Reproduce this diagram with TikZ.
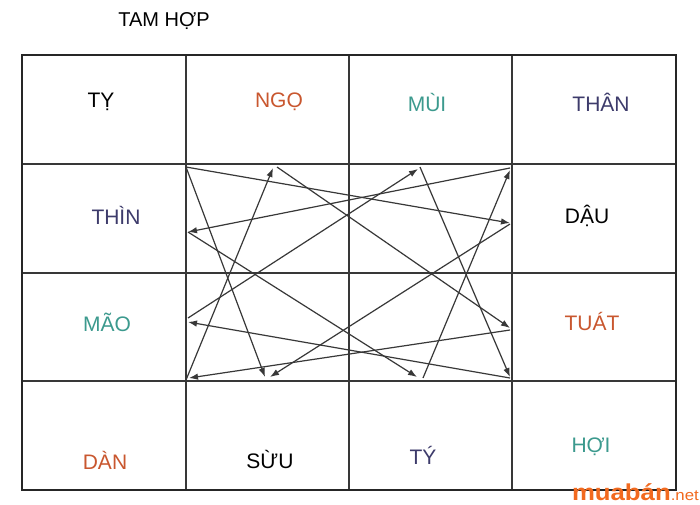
\documentclass[tikz,border=0pt]{standalone}
\usepackage{fontspec}
\setmainfont{Liberation Sans}
\usetikzlibrary{arrows.meta}
\definecolor{cOrange}{HTML}{C9572F}
\definecolor{cTeal}{HTML}{3C9A8E}
\definecolor{cNavy}{HTML}{3D3B6B}
\definecolor{cLine}{HTML}{383838}
\definecolor{cMark}{HTML}{F26A1F}
\begin{document}
\begin{tikzpicture}[x=1pt,y=-1pt,
  lbl/.style={font=\fontsize{21}{24}\selectfont, anchor=center, inner sep=0pt},
  grid/.style={draw=cLine, line width=1.2pt},
  outer/.style={draw=black!85, line width=2.6pt},
  link/.style={draw=cLine, line width=1.2pt, -{Latex[length=9pt,width=6.5pt]}}]
\useasboundingbox (0,0) rectangle (700,504);
\fill[white] (0,0) rectangle (700,504);
% grid
\draw[grid] (186,55) -- (186,490) (349,55) -- (349,490) (512,55) -- (512,490);
\draw[grid] (22,164) -- (676,164) (22,273) -- (676,273) (22,381) -- (676,381);
\draw[outer] (22,55) rectangle (676,490);
% title
\node[lbl, font=\fontsize{20}{24}\selectfont] (title) at (164,21) {TAM HỢP};
% labels
\node[lbl] (ty) at (101,102) {TỴ};
\node[lbl, text=cOrange] (ngo) at (279,102) {NGỌ};
\node[lbl, text=cTeal] (mui) at (427,102) {MÙI};
\node[lbl, text=cNavy] (than) at (601,102) {THÂN};
\node[lbl, text=cNavy] (thin) at (116,215) {THÌN};
\node[lbl, text=cTeal] (mao) at (107,322) {MÃO};
\node[lbl] (dau) at (587,216) {DẬU};
\node[lbl, text=cOrange] (tuat) at (592,321) {TUÁT};
\node[lbl, text=cOrange] (dan) at (105,460) {DÀN};
\node[lbl] (suu) at (270,459) {SỪU};
\node[lbl, text=cNavy] (tys) at (423,455) {TÝ};
\node[lbl, text=cTeal] (hoi) at (591,447) {HỢI};
% watermark
\node[anchor=base east, inner sep=0pt, text=cMark, xscale=1.12, transform shape] (mark) at (699,500)
  {\fontsize{23}{23}\selectfont\bfseries muabán\fontsize{15}{15}\selectfont\mdseries.net};
% anchor points
\coordinate (pTL) at (186,167);
\coordinate (pDauE) at (510,223);
\coordinate (pDauS) at (510,224);
\coordinate (pSuu1) at (265,377);
\coordinate (pSuu2) at (270,377);
\coordinate (pBLs) at (186,380);
\coordinate (pBLe) at (189,378);
\coordinate (pNgoE) at (273,168);
\coordinate (pNgoS) at (277,167);
\coordinate (pTuatE) at (510,328);
\coordinate (pTuatS) at (510,330);
\coordinate (pThin) at (188,232);
\coordinate (pTRs) at (510,168);
\coordinate (pTRe) at (510,170);
\coordinate (pTyE) at (417,377);
\coordinate (pTyS) at (423,378);
\coordinate (pMuiS) at (420,167);
\coordinate (pMuiE) at (418,169);
\coordinate (pBRe) at (510,377);
\coordinate (pBRs) at (510,378);
\coordinate (pMaoE) at (188,322);
\coordinate (pMaoS) at (188,318);
% Ty - Dau - Suu
\draw[link] (pTL) -- (pDauE);
\draw[link] (pTL) -- (pSuu1);
\draw[link] (pDauS) -- (pSuu2);
% Than - Ty - Thin
\draw[link] (pTRs) -- (pThin);
\draw[link] (pThin) -- (pTyE);
\draw[link] (pTyS) -- (pTRe);
% Dan - Ngo - Tuat
\draw[link] (pBLs) -- (pNgoE);
\draw[link] (pNgoS) -- (pTuatE);
\draw[link] (pTuatS) -- (pBLe);
% Hoi - Mao - Mui
\draw[link] (pBRs) -- (pMaoE);
\draw[link] (pMaoS) -- (pMuiE);
\draw[link] (pMuiS) -- (pBRe);
\end{tikzpicture}
\end{document}
